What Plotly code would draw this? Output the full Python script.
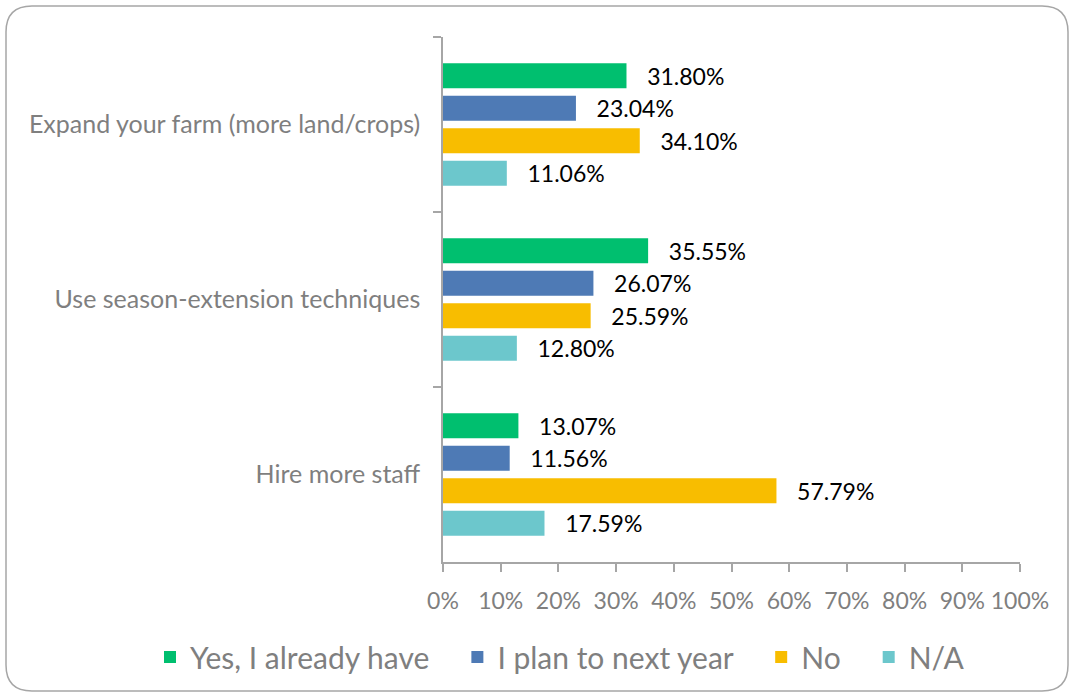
import plotly.graph_objects as go

categories = ["Expand your farm (more land/crops)", "Use season-extension techniques", "Hire more staff"]
series_names = ["Yes, I already have", "I plan to next year", "No", "N/A"]
yes_vals = [31.80, 35.55, 13.07]
plan_vals = [23.04, 26.07, 11.56]
no_vals = [34.10, 25.59, 57.79]
na_vals = [11.06, 12.80, 17.59]
x_ticks = [0, 10, 20, 30, 40, 50, 60, 70, 80, 90, 100]
x_tick_text = ["0%", "10%", "20%", "30%", "40%", "50%", "60%", "70%", "80%", "90%", "100%"]
colors = ["#00BF6F", "#4E7AB5", "#F8BD00", "#6CC7CC"]

W, H = 1072, 696
L, R, T, B = 443, 52, 37, 134
pw, ph = W - L - R, H - T - B

fig = go.Figure()
for name, vals, col in zip(series_names, [yes_vals, plan_vals, no_vals, na_vals], colors):
    fig.add_trace(go.Bar(
        y=categories, x=vals, name=name + "\u00a0\u00a0\u00a0", orientation="h",
        marker=dict(color=col, line=dict(width=0)),
        text=["\u00a0\u00a0\u00a0%.2f%%" % v for v in vals],
        textposition="outside", cliponaxis=False, constraintext="none",
        textfont=dict(color="#000000", size=23, family="Lato"),
    ))

def px(x):
    return (x - L) / pw
def py(y):
    return (H - B - y) / ph

x0, x1, y0, y1, r = 6, 1068, 6, 691, 26
rx, ry = r / pw, r / ph
path = (f"M {px(x0)+rx} {py(y0)} L {px(x1)-rx} {py(y0)} Q {px(x1)} {py(y0)} {px(x1)} {py(y0)-ry} "
        f"L {px(x1)} {py(y1)+ry} Q {px(x1)} {py(y1)} {px(x1)-rx} {py(y1)} "
        f"L {px(x0)+rx} {py(y1)} Q {px(x0)} {py(y1)} {px(x0)} {py(y1)+ry} "
        f"L {px(x0)} {py(y0)-ry} Q {px(x0)} {py(y0)} {px(x0)+rx} {py(y0)} Z")

fig.update_layout(
    width=W, height=H,
    margin=dict(l=L, r=R, t=T, b=B),
    paper_bgcolor="white", plot_bgcolor="white",
    barmode="group", bargap=0.257, bargroupgap=0.23,
    font=dict(family="Lato", color="#7F7F7F"),
    showlegend=True,
    legend=dict(orientation="h", xref="paper", x=px(150), xanchor="left",
                yref="paper", y=py(657), yanchor="middle", bgcolor="rgba(0,0,0,0)",
                font=dict(size=30, color="#7F7F7F", family="Lato"), traceorder="normal"),
    xaxis=dict(range=[0, 100], tickvals=x_ticks, ticktext=x_tick_text, showgrid=False, zeroline=False,
               showline=True, linecolor="#A6A6A6", linewidth=1.5, ticks="outside", ticklen=8,
               tickcolor="#A6A6A6", tickwidth=1.5, tickfont=dict(size=23, color="#7F7F7F"),
               ticklabelstandoff=10, fixedrange=True),
    yaxis=dict(autorange="reversed", showgrid=False, showline=True, linecolor="#A6A6A6", linewidth=1.5,
               ticks="outside", tickson="boundaries", ticklen=8, tickcolor="#A6A6A6", tickwidth=1.5,
               tickfont=dict(size=25, color="#7F7F7F"), ticklabelstandoff=16),
    shapes=[dict(type="path", xref="paper", yref="paper", path=path,
                 line=dict(color="#A6A6A6", width=1.5), layer="below")],
)

fig.write_html("out.html")
